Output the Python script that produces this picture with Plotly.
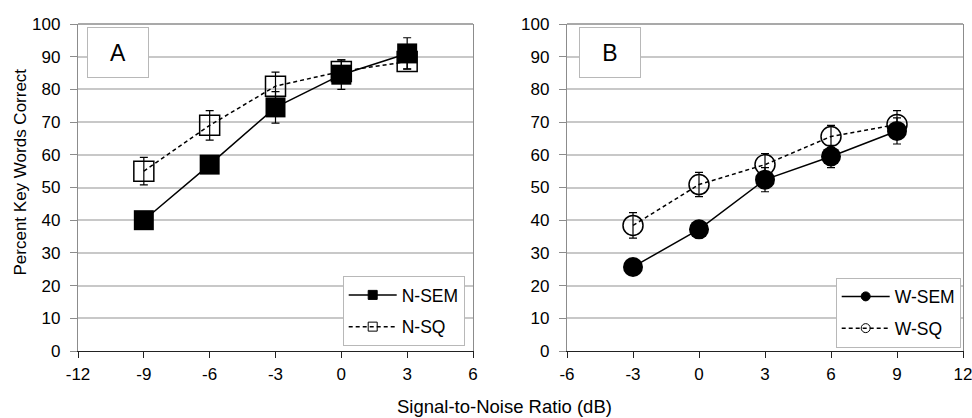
import plotly.graph_objects as go

# ---------------- data ----------------
snr_a = [-9, -6, -3, 0, 3]
n_sem = [40, 57, 74.5, 84.5, 91]
n_sem_err = [2.5, 2.5, 4.8, 4.5, 4.8]
n_sq = [55, 69, 81, 85.5, 88.5]
n_sq_err = [4.2, 4.5, 4.3, 3.5, 2.2]

snr_b = [-3, 0, 3, 6, 9]
w_sem = [25.7, 37.2, 52.4, 59.5, 67.3]
w_sem_err = [2, 2, 3.7, 3.4, 4]
w_sq = [38.4, 50.9, 57, 65.6, 69.3]
w_sq_err = [3.9, 3.7, 3.4, 3.4, 4.2]

xticks_a = [-12, -9, -6, -3, 0, 3, 6]
xticklabels_a = ["-12", "-9", "-6", "-3", "0", "3", "6"]
xticks_b = [-6, -3, 0, 3, 6, 9, 12]
xticklabels_b = ["-6", "-3", "0", "3", "6", "9", "12"]
yticks = [0, 10, 20, 30, 40, 50, 60, 70, 80, 90, 100]

FONT = "Liberation Sans, Arial, sans-serif"
W, H = 972, 418
T, B = 24, 67
PH = H - T - B

fig = go.Figure()

def err(vals):
    return dict(type="data", array=vals, symmetric=True, color="black",
                thickness=1.2, width=4)

# Panel A
fig.add_trace(go.Scatter(x=snr_a, y=n_sq, mode="lines+markers", name="N-SQ",
                         line=dict(color="black", width=1.5, dash="4px,3px"),
                         marker=dict(symbol="square-open", size=20, color="black",
                                     line=dict(width=1.5, color="black")),
                         error_y=err(n_sq_err), showlegend=False,
                         xaxis="x", yaxis="y"))
fig.add_trace(go.Scatter(x=snr_a, y=n_sem, mode="lines+markers", name="N-SEM",
                         line=dict(color="black", width=1.5),
                         marker=dict(symbol="square", size=20, color="black"),
                         error_y=err(n_sem_err), showlegend=False,
                         xaxis="x", yaxis="y"))
# Panel B
fig.add_trace(go.Scatter(x=snr_b, y=w_sq, mode="lines+markers", name="W-SQ",
                         line=dict(color="black", width=1.5, dash="4px,3px"),
                         marker=dict(symbol="circle-open", size=20, color="black",
                                     line=dict(width=1.5, color="black")),
                         error_y=err(w_sq_err), showlegend=False,
                         xaxis="x2", yaxis="y2"))
fig.add_trace(go.Scatter(x=snr_b, y=w_sem, mode="lines+markers", name="W-SEM",
                         line=dict(color="black", width=1.5),
                         marker=dict(symbol="circle", size=20, color="black"),
                         error_y=err(w_sem_err), showlegend=False,
                         xaxis="x2", yaxis="y2"))

# legend-only entries (smaller symbols)
leg = [
    ("N-SEM", "square", None, "legend", "x", "y"),
    ("N-SQ", "square-open", "4px,3px", "legend", "x", "y"),
    ("W-SEM", "circle", None, "legend2", "x2", "y2"),
    ("W-SQ", "circle-open", "4px,3px", "legend2", "x2", "y2"),
]
for name, sym, dash, lg, xa, ya in leg:
    fig.add_trace(go.Scatter(x=[None], y=[None], mode="lines+markers", name=name,
                             line=dict(color="black", width=1.5, dash=dash),
                             marker=dict(symbol=sym, size=9, color="black",
                                         line=dict(width=1, color="black")),
                             legend=lg, legendgroup=name, showlegend=True,
                             xaxis=xa, yaxis=ya))

dom_a = [78 / W, 473 / W]
dom_b = [567 / W, 963 / W]

xcommon = dict(showgrid=False, zeroline=False, showline=True, linecolor="#222",
               linewidth=1.3, ticks="outside", ticklen=6, tickcolor="#222",
               tickwidth=1.2, tickfont=dict(family=FONT, size=17, color="black"),
               ticklabelstandoff=1, ticklabeloverflow="allow")
ycommon = dict(range=[0, 100], tickvals=yticks, showgrid=True, gridcolor="#c8c8c8",
               gridwidth=1.5, zeroline=False, showline=True, linecolor="#8c8c8c",
               linewidth=1.3, mirror=True, ticks="outside", ticklen=7,
               tickcolor="#8c8c8c", tickwidth=1.2,
               tickfont=dict(family=FONT, size=17, color="black"),
               ticklabelstandoff=6)

legcommon = dict(bgcolor="white", bordercolor="#b8b8b8", borderwidth=1,
                 font=dict(family=FONT, size=17.5, color="black"),
                 xanchor="left", yanchor="top", traceorder="grouped",
                 tracegroupgap=6, itemwidth=48)

fig.update_layout(
    width=W, height=H, autosize=False,
    margin=dict(l=0, r=0, t=T, b=B, autoexpand=False),
    paper_bgcolor="white", plot_bgcolor="white",
    xaxis=dict(domain=dom_a, range=[-12, 6], tickvals=xticks_a,
               ticktext=xticklabels_a, anchor="y", **xcommon),
    yaxis=dict(domain=[0, 1], anchor="x", **ycommon),
    xaxis2=dict(domain=dom_b, range=[-6, 12], tickvals=xticks_b,
                ticktext=xticklabels_b, anchor="y2", **xcommon),
    yaxis2=dict(domain=[0, 1], anchor="x2", **ycommon),
    legend=dict(x=342.7 / W, y=(H - B - 276) / PH, **legcommon),
    legend2=dict(x=835.7 / W, y=(H - B - 277.5) / PH, **legcommon),
    showlegend=True,
)

# top frame lines (gray)
for xr, yr in (("x domain", "y domain"), ("x2 domain", "y2 domain")):
    fig.add_shape(type="line", xref=xr, yref=yr, x0=0, x1=1, y0=1, y1=1,
                  line=dict(color="#8c8c8c", width=1.3), layer="above")

# panel labels
for lab, px in (("A", 87), ("B", 579)):
    fig.add_annotation(text=lab, xref="paper", yref="paper",
                       x=px / W, y=(H - B - 26.7) / PH, xanchor="left", yanchor="top",
                       showarrow=False, width=60, height=49, borderpad=0,
                       bordercolor="#b8b8b8", borderwidth=1, bgcolor="white",
                       font=dict(family=FONT, size=23, color="black"),
                       align="center", valign="middle")

# axis titles
fig.add_annotation(text="Percent Key Words Correct", xref="paper", yref="paper",
                   x=20 / W, y=(H - B - 172.5) / PH, textangle=-90, showarrow=False,
                   xanchor="center", yanchor="middle",
                   font=dict(family=FONT, size=17, color="black"))
fig.add_annotation(text="Signal-to-Noise Ratio (dB)", xref="paper", yref="paper",
                   x=504.5 / W, y=(H - B - 406) / PH, showarrow=False,
                   xanchor="center", yanchor="middle",
                   font=dict(family=FONT, size=18.5, color="black"))

fig.write_html("out.html")
